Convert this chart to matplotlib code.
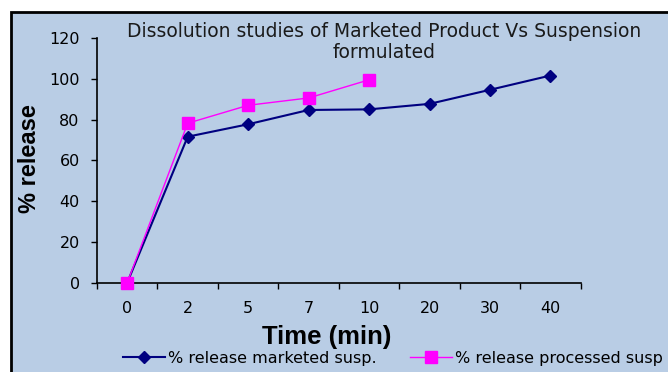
import numpy as np
import matplotlib
matplotlib.use("Agg")
from matplotlib import pyplot as plt
from matplotlib import font_manager as fm
from matplotlib.patches import Rectangle

# data
time_labels = ["0", "2", "5", "7", "10", "20", "30", "40"]
marketed = [0, 71.6, 77.7, 84.7, 85.0, 87.7, 94.6, 101.6]
processed = [0, 78.2, 87.0, 90.6, 99.5]
yticks = [0, 20, 40, 60, 80, 100, 120]

W, H = 668, 372
bg = "#b9cde5"

# plain (not narrow) Liberation Sans Bold for the axis titles
cands = [f.fname for f in fm.fontManager.ttflist
         if f.name == 'Liberation Sans' and f.weight in (700, 'bold') and f.style == 'normal'
         and 'narrow' not in f.fname.lower()]
if cands:
    ylab_font = fm.FontProperties(fname=cands[0], size=17)
    xlab_font = fm.FontProperties(fname=cands[0], size=18.5)
else:
    ylab_font = fm.FontProperties(family='sans-serif', weight='bold', size=17)
    xlab_font = fm.FontProperties(family='sans-serif', weight='bold', size=18.5)

fig = plt.figure(figsize=(W / 100, H / 100), dpi=100, facecolor="white")
fig.patches.append(Rectangle((11 / W, -0.1), 1.2, 1 - 12 / H + 0.1, transform=fig.transFigure,
                             facecolor=bg, edgecolor="black", linewidth=2, zorder=-5))

ax = fig.add_axes([97 / W, 1 - 282.7 / H, (580.7 - 97) / W, (282.7 - 38) / H])
ax.patch.set_alpha(0)

x = np.arange(len(time_labels))
ax.plot(x, marketed, '-D', color='#000080', lw=1.5, markersize=6,
        label='% release marketed susp.', zorder=3, clip_on=False)
ax.plot(x[:len(processed)], processed, '-s', color='#ff00ff', lw=1.0, markersize=9,
        label='% release processed susp', zorder=4, clip_on=False)

ax.set_xlim(-0.5, len(time_labels) - 0.5)
ax.set_ylim(0, 120)
ax.set_yticks(yticks)
ax.set_xticks(np.arange(len(time_labels) + 1) - 0.5)
ax.set_xticklabels([])
ax.set_xticks(x, minor=True)
ax.set_xticklabels(time_labels, minor=True)
ax.tick_params(axis='x', which='major', direction='out', length=4.5, width=1)
ax.tick_params(axis='x', which='minor', length=0, pad=13, labelsize=11.5)
ax.tick_params(axis='y', direction='out', length=4.5, width=1, pad=8, labelsize=11.5)

for s in ['top', 'right']:
    ax.spines[s].set_visible(False)
for s in ['left', 'bottom']:
    ax.spines[s].set_linewidth(1.2)

fig.text(30 / W, 1 - 159 / H, "% release", rotation=90, ha='center', va='center',
         fontproperties=ylab_font)
fig.text(327 / W, 1 - 337 / H, "Time (min)", ha='center', va='center',
         fontproperties=xlab_font)
fig.text(384 / W, 1 - 42 / H, "Dissolution studies of Marketed Product Vs Suspension\nformulated",
         ha='center', va='center', fontsize=13.5, linespacing=1.1, color='#1a1a1a')

fig.legend(loc='center', bbox_to_anchor=(393 / W, 1 - 358 / H), ncol=2, frameon=False,
           fontsize=11.5, handlelength=2.6, handletextpad=0.2, columnspacing=2.1,
           borderpad=0, borderaxespad=0)

fig.savefig("out.png", dpi=100, facecolor=fig.get_facecolor())
